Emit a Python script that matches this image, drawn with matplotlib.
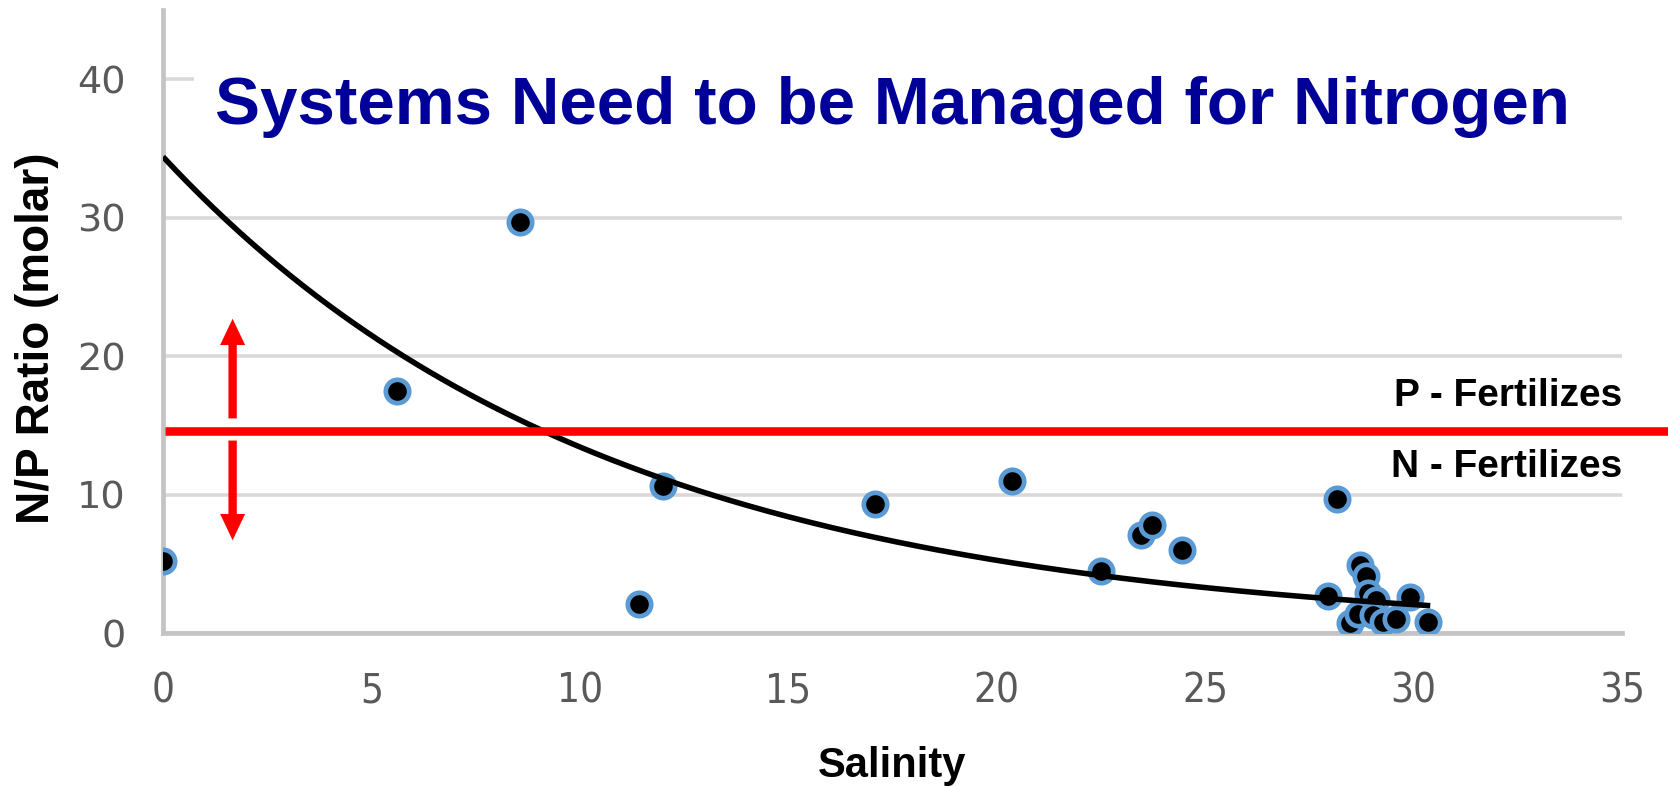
import numpy as np
import matplotlib
matplotlib.use("Agg")
import matplotlib.pyplot as plt
from matplotlib.patches import Rectangle

# ---- data ----
salinity = [0.0, 5.61, 8.57, 11.43, 11.99, 17.09, 20.36, 22.5, 23.47, 23.72, 24.44,
            28.17, 28.71, 28.87, 27.95, 28.90, 29.11, 29.91, 28.47, 28.67, 29.03,
            29.27, 29.59, 30.35]
np_ratio = [5.2, 17.5, 29.7, 2.1, 10.6, 9.3, 11.0, 4.5, 7.1, 7.8, 6.0,
            9.7, 4.9, 4.1, 2.7, 2.9, 2.4, 2.6, 0.7, 1.4, 1.3,
            0.8, 1.0, 0.8]

# exponential trend line (Excel style y = a*exp(b*x)), parameters
trend_a = 34.4
trend_b = -0.094
trend_x_range = [0.0, 30.4]

redfield_level = 14.6
arrow_x = 1.67
arrow_up = [15.5, 22.7]
arrow_down = [13.9, 6.7]

x_ticks = [0, 5, 10, 15, 20, 25, 30, 35]
y_ticks = [0, 10, 20, 30, 40]

title = "Systems Need to be Managed for Nitrogen"
label_p = "P - Fertilizes"
label_n = "N - Fertilizes"
xlabel = "Salinity"
ylabel = "N/P Ratio (molar)"

# ---- figure ----
W, H = 1668, 786
fig = plt.figure(figsize=(W / 100, H / 100), dpi=100)
ax = fig.add_axes([163 / W, 1 - 633 / H, (1622 - 163) / W, (633 - 10) / H])

ax.set_xlim(0, 35)
ax.set_ylim(0, 45)
ax.set_xticks(x_ticks)
ax.set_yticks(y_ticks)

ax.set_axisbelow(True)
ax.yaxis.grid(True, color="#d9d9d9", lw=2.6)
ax.xaxis.grid(False)

for s in ["top", "right"]:
    ax.spines[s].set_visible(False)
for s in ["left", "bottom"]:
    ax.spines[s].set_color("#c4c4c4")
    ax.spines[s].set_linewidth(3.4)
    ax.spines[s].set_zorder(2)

tick_color = "#595959"
ax.tick_params(axis="x", length=0, pad=28, labelsize=29, labelcolor=tick_color)
ax.tick_params(axis="y", length=0, pad=27, labelsize=27.5, labelcolor=tick_color)
for lab in ax.get_xticklabels():
    lab.set_family(["DejaVu Sans"])
    lab.set_stretch("condensed")

# white box behind the title hiding the 40 gridline
ax.add_patch(Rectangle((0.74, 37.6), 35.5, 4.8, facecolor="white", edgecolor="none",
                       zorder=1, clip_on=False))

# scatter points
ax.scatter(salinity, np_ratio, s=16.8 ** 2, facecolor="black", edgecolor="#5b9bd5",
           linewidths=3.4, zorder=4)

# trend line
tx = np.linspace(trend_x_range[0], trend_x_range[1], 300)
ax.plot(tx, trend_a * np.exp(trend_b * tx), color="black", lw=4.0, zorder=5,
        solid_capstyle="butt")

# red threshold line extending to the figure edge
ax.plot([0.05, 36.3], [redfield_level, redfield_level], color="#ff0000", lw=6.2,
        zorder=6, clip_on=False, solid_capstyle="butt")

# red arrows
for y0, y1 in [arrow_up, arrow_down]:
    ax.arrow(arrow_x, y0, 0, y1 - y0, width=0.2, head_width=0.6, head_length=1.9,
             length_includes_head=True, color="#ff0000", lw=0, zorder=6)

# labels on the right
ax.text(35, 16.4, label_p, ha="right", va="baseline", fontsize=28, fontweight="bold",
        family="Liberation Sans", color="black", zorder=7)
ax.text(35, 11.3, label_n, ha="right", va="baseline", fontsize=28, fontweight="bold",
        family="Liberation Sans", color="black", zorder=7)

# title
fig.text(892 / W, 1 - 124 / H, title, ha="center", va="baseline", fontsize=48.5,
         fontweight="bold", family="Liberation Sans", color="#000099", zorder=8)

# axis labels
fig.text(892 / W, 1 - 777 / H, xlabel, ha="center", va="baseline", fontsize=30,
         fontweight="bold", family="Liberation Sans", color="black")
fig.text(37 / W, 1 - 338 / H, ylabel, ha="center", va="center", rotation=90,
         fontsize=33, fontweight="bold", family="Liberation Sans", color="black")

fig.savefig("out.png", dpi=100, facecolor="white")
